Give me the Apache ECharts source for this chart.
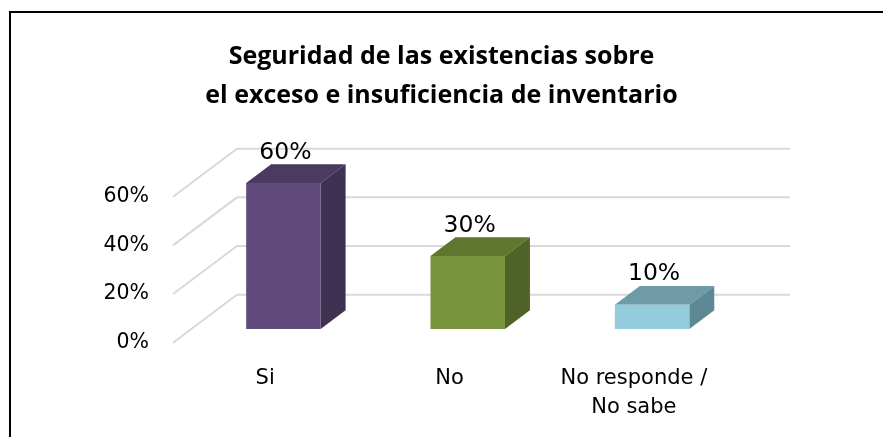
<!DOCTYPE html>
<html>
<head>
<meta charset="utf-8">
<script src="https://cdn.jsdelivr.net/npm/echarts@6/dist/echarts.min.js"></script>
<style>
html,body{margin:0;padding:0;background:#fff;}
#chart{width:883px;height:437px;}
</style>
</head>
<body>
<div id="chart"></div>
<script>
const titleText = 'Seguridad de las existencias sobre\nel exceso e insuficiencia de inventario';
const categories = ['Si', 'No', 'No responde /\nNo sabe'];
const values = [60, 30, 10];
const valueLabels = ['60%', '30%', '10%'];
const yTicks = [0, 20, 40, 60];

const frontColors = ['#604A7B', '#77933C', '#93CDDD'];
const topColors = ['#4B3A61', '#5F762F', '#6E9BA7'];
const sideColors = ['#3F3152', '#4F6228', '#5E8893'];

const DX = 64, DY = -48;       // depth of floor/walls
const D0 = 0.285, D1 = 0.675;  // bar depth start/end
const BAR_FRAC = 0.404;
const FONT = '"DejaVu Sans", sans-serif';
const TITLE_FONT = '"Open Sans", sans-serif';

const chart = echarts.init(document.getElementById('chart'), null, {renderer: 'canvas'});

const option = {
  backgroundColor: '#fff',
  animation: false,
  title: {
    text: titleText,
    left: 'center',
    top: 33,
    textStyle: {fontFamily: TITLE_FONT, fontWeight: 'bold', fontSize: 25, lineHeight: 38.5, color: '#000'}
  },
  graphic: [{
    type: 'rect', shape: {x: 10, y: 12, width: 900, height: 500},
    style: {fill: 'none', stroke: '#000', lineWidth: 2}, silent: true
  }],
  grid: {left: 173, right: 157, top: 196.7, bottom: 94.3},
  xAxis: {
    type: 'category',
    data: categories,
    axisLine: {show: false},
    axisTick: {show: false},
    splitLine: {show: false},
    axisLabel: {interval: 0, margin: 21, fontFamily: FONT, fontSize: 21, lineHeight: 29, color: '#000'}
  },
  yAxis: {
    type: 'value',
    min: 0, max: 60, interval: 20,
    axisLine: {show: false},
    axisTick: {show: false},
    splitLine: {show: false},
    axisLabel: {formatter: '{value}%', margin: 24, fontFamily: FONT, fontSize: 20.5, color: '#000'}
  },
  series: [
    {
      type: 'custom',
      z: 1,
      data: yTicks.map(t => [0, t]),
      renderItem: function (params, api) {
        const cs = params.coordSys;
        const p = api.coord([0, api.value(1)]);
        const y = p[1];
        const x0 = cs.x, x1 = cs.x + cs.width;
        return {
          type: 'polyline',
          shape: {points: [[x0, y], [x0 + DX, y + DY], [x1 + DX, y + DY]]},
          style: {stroke: '#D9D9D9', lineWidth: 2, fill: null},
          silent: true
        };
      }
    },
    {
      type: 'custom',
      z: 2,
      data: values.map((v, i) => [i, v]),
      renderItem: function (params, api) {
        const i = params.dataIndex;
        const cat = api.value(0), v = api.value(1);
        const p0 = api.coord([cat, 0]);
        const p1 = api.coord([cat, v]);
        const band = api.size([1, 0])[0];
        const w = band * BAR_FRAC;
        const fx = p0[0] - w / 2 + D0 * DX;
        const fy0 = p0[1] + D0 * DY;
        const fy1 = p1[1] + D0 * DY;
        const bx = (D1 - D0) * DX, by = (D1 - D0) * DY;
        return {
          type: 'group',
          children: [
            {type: 'polygon', shape: {points: [[fx, fy1], [fx + bx, fy1 + by], [fx + w + bx, fy1 + by], [fx + w, fy1]]},
              style: {fill: topColors[i]}},
            {type: 'polygon', shape: {points: [[fx + w, fy1], [fx + w + bx, fy1 + by], [fx + w + bx, fy0 + by], [fx + w, fy0]]},
              style: {fill: sideColors[i]}},
            {type: 'rect', shape: {x: fx, y: fy1, width: w, height: fy0 - fy1},
              style: {fill: frontColors[i]}},
            {type: 'text', z2: 10,
              style: {x: fx + w / 2 + 2, y: fy1 - 30.5, text: valueLabels[i], textAlign: 'center', textVerticalAlign: 'middle',
                fontFamily: FONT, fontSize: 23.5, fill: '#000'}}
          ]
        };
      }
    }
  ]
};
chart.setOption(option);
</script>
</body>
</html>
